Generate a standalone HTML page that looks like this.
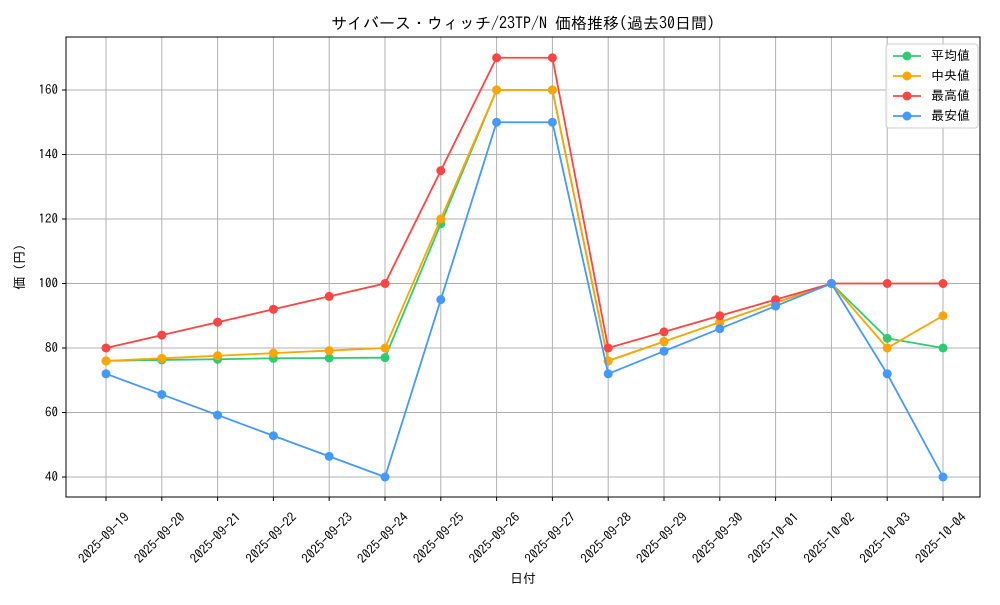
<!DOCTYPE html>
<html><head><meta charset="utf-8"><style>
body{margin:0;background:#fff;}
svg text{font-family:"IPAGothic","Noto Sans CJK JP",sans-serif;fill:#000;}
</style></head><body>
<svg id="chart" width="1000" height="600" xmlns="http://www.w3.org/2000/svg">
<text x="523" y="29" font-size="16" text-anchor="middle">サイバース・ウィッチ/23TP/N 価格推移(過去30日間)</text>
<g id="grid"></g>
<g id="axes"></g>
<g id="series"></g>
<rect x="66" y="37" width="914" height="460" fill="none" stroke="#000" stroke-width="1"/>
<text x="523" y="583" font-size="13" text-anchor="middle">日付</text>
<text transform="translate(24,267) rotate(-90)" font-size="13" text-anchor="middle">価 (円)</text>
<g id="legend"></g>
</svg>
<script>
const categories=["2025-09-19","2025-09-20","2025-09-21","2025-09-22","2025-09-23","2025-09-24","2025-09-25","2025-09-26","2025-09-27","2025-09-28","2025-09-29","2025-09-30","2025-10-01","2025-10-02","2025-10-03","2025-10-04"];
const avgValues=[76,76.3,76.5,76.8,76.9,77,118.5,160,160,76,82,88,94,100,83,80];
const medianValues=[76,76.8,77.6,78.4,79.2,80,120,160,160,76,82,88,94,100,80,90];
const maxValues=[80,84,88,92,96,100,135,170,170,80,85,90,95,100,100,100];
const minValues=[72,65.6,59.2,52.8,46.4,40,95,150,150,72,79,86,93,100,72,40];
const yTicks=[40,60,80,100,120,140,160];
const seriesNames=["平均値","中央値","最高値","最安値"];
const NS="http://www.w3.org/2000/svg";
function xs(i){return 106+i*(943-106)/(categories.length-1);}
function ys(v){return 477-(v-40)*(477-90)/120;}
function mk(tag,attrs,parent){const e=document.createElementNS(NS,tag);for(const k in attrs)e.setAttribute(k,attrs[k]);parent.appendChild(e);return e;}
const grid=document.getElementById('grid'),axes=document.getElementById('axes'),ser=document.getElementById('series'),leg=document.getElementById('legend');
categories.forEach((c,i)=>{
 const g=mk('line',{x1:xs(i),x2:xs(i),y1:37,y2:497,stroke:'#b0b0b0','stroke-width':1},grid);
 
 
 mk('line',{x1:xs(i),x2:xs(i),y1:497,y2:501,stroke:'#000'},axes);
 const t=mk('text',{'font-size':13,'text-anchor':'middle',transform:`translate(${xs(i)+1},${541}) rotate(-45)`},axes);
 t.textContent=c;
 
 
});
yTicks.forEach(v=>{
 const g=mk('line',{x1:66,x2:980,y1:ys(v),y2:ys(v),stroke:'#b0b0b0','stroke-width':1},grid);
 
 
 mk('line',{x1:62,x2:66,y1:ys(v),y2:ys(v),stroke:'#000'},axes);
 const t=mk('text',{x:58,y:ys(v)+4,'font-size':13,'text-anchor':'end'},axes);
 t.textContent=v;
 
 
});
const all=[[avgValues,'#2ecc71'],[medianValues,'#ffa500'],[maxValues,'#ff4444'],[minValues,'#4499ff']];
const names=['avg','median','max','min'];
all.forEach(([vals,col],si)=>{
 const p=mk('polyline',{points:vals.map((v,i)=>xs(i)+','+ys(v)).join(' '),fill:'none',stroke:col,'stroke-width':1.8},ser);
 
 
 vals.forEach((v,i)=>{
  const c=mk('circle',{cx:xs(i),cy:ys(v),r:4.5,fill:col},ser);
  
  
 });
});
mk('rect',{x:886,y:44,width:92,height:84,fill:'#fff','fill-opacity':0.85,stroke:'#ccc',rx:3},leg);
all.forEach(([vals,col],si)=>{
 const y=56+si*20;
 const g=mk('g',{},leg);
 
 
 mk('line',{x1:893,x2:921,y1:y,y2:y,stroke:col,'stroke-width':1.8},g);
 mk('circle',{cx:907,cy:y,r:4.5,fill:col},g);
 const t=mk('text',{x:931,y:y+4,'font-size':13},g);
 t.textContent=seriesNames[si];
});
</script>
</body></html>
